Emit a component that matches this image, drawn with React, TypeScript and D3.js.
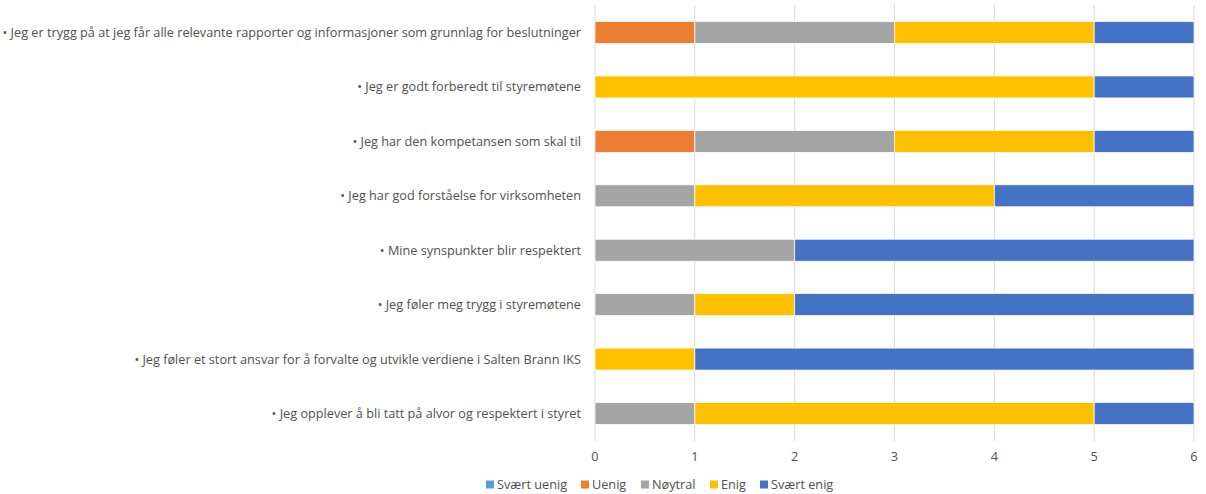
import React from "react";
import * as d3 from "d3";

const categories = [
  "• Jeg er trygg på at jeg får alle relevante rapporter og informasjoner som grunnlag for beslutninger",
  "• Jeg er godt forberedt til styremøtene",
  "• Jeg har den kompetansen som skal til",
  "• Jeg har god forståelse for virksomheten",
  "• Mine synspunkter blir respektert",
  "• Jeg føler meg trygg i styremøtene",
  "• Jeg føler et stort ansvar for å forvalte og utvikle verdiene i Salten Brann IKS",
  "• Jeg opplever å bli tatt på alvor og respektert i styret",
];
const seriesNames = ["Svært uenig", "Uenig", "Nøytral", "Enig", "Svært enig"];
const seriesColors = ["#5B9BD5", "#ED7D31", "#A5A5A5", "#FFC000", "#4472C4"];
const sveertUenig = [0, 0, 0, 0, 0, 0, 0, 0];
const uenig = [1, 0, 1, 0, 0, 0, 0, 0];
const noytral = [2, 0, 2, 1, 2, 1, 0, 1];
const enig = [2, 5, 2, 3, 0, 1, 1, 4];
const svaertEnig = [1, 1, 1, 2, 4, 4, 5, 1];
const xTicks = [0, 1, 2, 3, 4, 5, 6];

const W = 1206;
const H = 494;
const FONT = "Open Sans, Liberation Sans, sans-serif";

export default function App() {
  const values = [sveertUenig, uenig, noytral, enig, svaertEnig];
  const rows = categories.map((c, i) => {
    const r: any = { cat: c };
    seriesNames.forEach((s, j) => (r[s] = values[j][i]));
    return r;
  });
  const stacked = d3.stack<any>().keys(seriesNames)(rows);
  const x = d3.scaleLinear().domain([0, 6]).range([595, 1194]);
  const y = d3.scaleBand().domain(categories).range([5.3, 440.7]).paddingInner(0.596).paddingOuter(0.298);
  const legendX = [486, 581, 641, 710, 760];
  return (
    <div style={{ position: "absolute", left: 0, top: 0 }}>
      <svg width={W} height={H} style={{ display: "block" }} fontFamily={FONT}>
        <rect width={W} height={H} fill="#fff" />
        {xTicks.map((t) => (
          <line key={t} x1={x(t)} x2={x(t)} y1={5} y2={441} stroke="#D9D9D9" strokeWidth={1} />
        ))}
        {stacked.map((s, si) =>
          s.map((d, i) =>
            d[1] - d[0] > 0 ? (
              <rect
                key={si + "-" + i}
                x={x(d[0])}
                y={y(categories[i])}
                width={x(d[1]) - x(d[0])}
                height={y.bandwidth()}
                fill={seriesColors[si]}
                stroke="#fff"
                strokeWidth={0.75}
              />
            ) : null
          )
        )}
        {categories.map((c) => (
          <text key={c} x={581} y={(y(c) as number) + y.bandwidth() / 2} dy="0.35em" textAnchor="end" fontSize={12.7} fill="#505050">
            {c}
          </text>
        ))}
        {xTicks.map((t) => (
          <text key={t} x={x(t)} y={457} dy="0.35em" textAnchor="middle" fontSize={12.7} fill="#505050">
            {t}
          </text>
        ))}
        {seriesNames.map((s, i) => (
          <g key={s} transform={`translate(${legendX[i]},485)`}>
            <rect x={0} y={-4.5} width={8} height={8} fill={seriesColors[i]} />
            <text x={11} y={0} dy="0.35em" fontSize={12.7} fill="#505050">
              {s}
            </text>
          </g>
        ))}
      </svg>
    </div>
  );
}
